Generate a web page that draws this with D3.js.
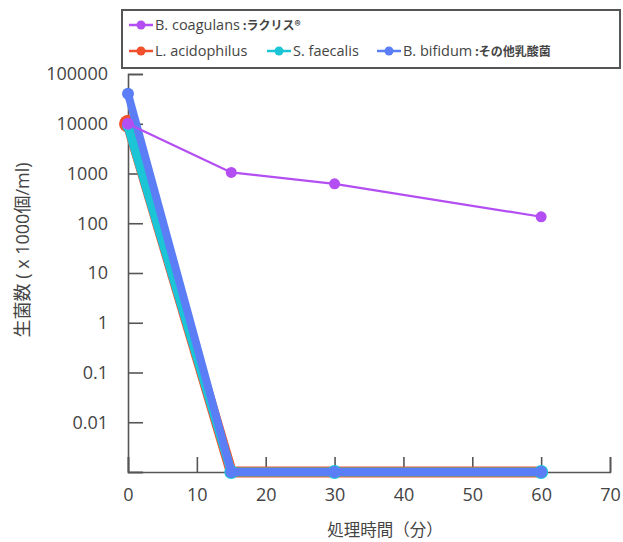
<!DOCTYPE html>
<html>
<head>
<meta charset="utf-8">
<script src="https://cdn.jsdelivr.net/npm/d3@7"></script>
<style>
body { margin: 0; background: #fff; }
text { font-family: "Open Sans", "Noto Sans CJK JP", sans-serif; fill: #444; }
</style>
</head>
<body>
<script>
// data
var minutes = [0, 15, 30, 60];
var coagulans = [10000, 1050, 620, 135];
var acidophilus = [10000, 0.001, 0.001, 0.001];
var faecalis = [9000, 0.001, 0.001, 0.001];
var bifidum = [40000, 0.001, 0.001, 0.001];
var xTicks = [0, 10, 20, 30, 40, 50, 60, 70];
var yTicks = [0.001, 0.01, 0.1, 1, 10, 100, 1000, 10000, 100000];
var yTickLabels = ['', '0.01', '0.1', '1', '10', '100', '1000', '10000', '100000'];

var svg = d3.select('body').append('svg')
  .attr('width', 623)
  .attr('height', 542);

var x = d3.scaleLinear().domain([0, 70]).range([128, 610]);
var y = d3.scaleLog().domain([0.001, 100000]).range([472, 74]);

// axes
var xAxis = svg.append('g')
  .attr('transform', 'translate(0,472)')
  .call(d3.axisBottom(x).tickValues(xTicks).tickSize(-15).tickPadding(16).tickFormat(d3.format('d')));
var yAxis = svg.append('g')
  .attr('transform', 'translate(128,0)')
  .call(d3.axisLeft(y).tickValues(yTicks).tickSize(-15).tickPadding(20).tickFormat(function(d, i){ return yTickLabels[i]; }));

[xAxis, yAxis].forEach(function(a){
  a.select('.domain').attr('stroke', '#555').attr('stroke-width', 1.6);
  a.selectAll('.tick line').attr('stroke', '#555').attr('stroke-width', 1.6);
  a.selectAll('.tick text').attr('font-size', 18).attr('fill', '#444')
    .attr('font-family', '"Open Sans", sans-serif');
});

// axis titles
svg.append('text')
  .attr('x', 385)
  .attr('y', 536)
  .attr('text-anchor', 'middle')
  .attr('font-size', 16.5)
  .attr('font-family', '"Noto Sans CJK JP", sans-serif')
  .text('処理時間（分）');

svg.append('text')
  .attr('transform', 'translate(29,250) rotate(-90)')
  .attr('text-anchor', 'middle')
  .attr('font-size', 18)
  .attr('font-family', '"Noto Sans CJK JP", sans-serif')
  .text('生菌数 ( x 1000個/ml)');

// series
var series = [
  { name: 'L. acidophilus', values: acidophilus, color: '#f2502c', width: 11, r: [9, 6, 6, 6] },
  { name: 'S. faecalis', values: faecalis, color: '#1cc5d6', width: 9, r: [6, 7, 7, 7] },
  { name: 'B. bifidum', values: bifidum, color: '#5b7ef6', width: 8, r: [6, 6, 6, 6] },
  { name: 'B. coagulans', values: coagulans, color: '#b34ef2', width: 2.2, r: [6, 5.5, 5.5, 5.5] }
];

var line = d3.line()
  .x(function(d){ return x(d[0]); })
  .y(function(d){ return y(d[1]); });

series.forEach(function(s){
  var pts = minutes.map(function(m, i){ return [m, s.values[i]]; });
  svg.append('path')
    .datum(pts)
    .attr('d', line)
    .attr('fill', 'none')
    .attr('stroke', s.color)
    .attr('stroke-width', s.width)
    .attr('stroke-linejoin', 'round');
  svg.selectAll(null)
    .data(pts)
    .enter().append('circle')
    .attr('cx', function(d){ return x(d[0]); })
    .attr('cy', function(d){ return y(d[1]); })
    .attr('r', function(d, i){ return s.r[i]; })
    .attr('fill', s.color);
});

// legend
svg.append('rect')
  .attr('x', 122)
  .attr('y', 10)
  .attr('width', 498)
  .attr('height', 58)
  .attr('fill', '#fff')
  .attr('stroke', '#555')
  .attr('stroke-width', 2);

var legendItems = [
  { en: 'B. coagulans', jp: ' :ラクリス®', color: '#b34ef2', x: 129, y: 25 },
  { en: 'L. acidophilus', jp: '', color: '#f2502c', x: 129, y: 51 },
  { en: 'S. faecalis', jp: '', color: '#1cc5d6', x: 267, y: 51 },
  { en: 'B. bifidum', jp: ' :その他乳酸菌', color: '#5b7ef6', x: 377, y: 51 }
];

legendItems.forEach(function(d){
  svg.append('line')
    .attr('x1', d.x).attr('x2', d.x + 24)
    .attr('y1', d.y).attr('y2', d.y)
    .attr('stroke', d.color)
    .attr('stroke-width', 2.5);
  svg.append('circle')
    .attr('cx', d.x + 12).attr('cy', d.y).attr('r', 4.5)
    .attr('fill', d.color);
  var t = svg.append('text')
    .attr('x', d.x + 26)
    .attr('y', d.y + 5)
    .attr('font-size', 14.5)
    .text(d.en);
  if (d.jp) {
    t.append('tspan')
      .attr('font-size', 12)
      .attr('font-weight', 'bold')
      .attr('font-family', '"Noto Sans CJK JP", sans-serif')
      .text(d.jp);
  }
});
</script>
</body>
</html>
